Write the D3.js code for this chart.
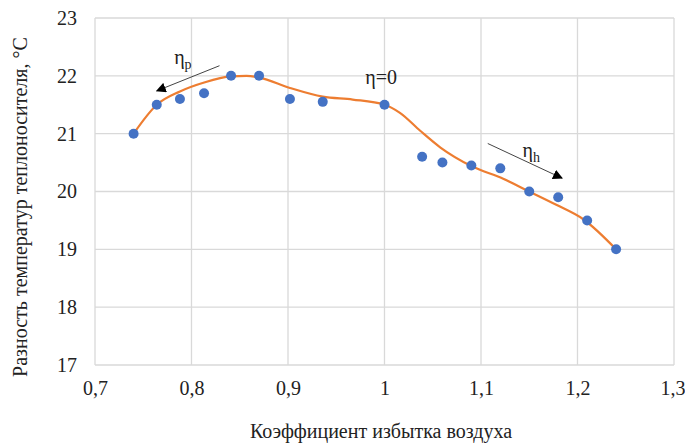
<!DOCTYPE html>
<html>
<head>
<meta charset="utf-8">
<script src="https://cdn.jsdelivr.net/npm/d3@7"></script>
<style>
  body { margin: 0; background: #fff; }
</style>
</head>
<body>
<div id="chart"></div>
<script>
// measured points
const alphaPts = [0.74, 0.764, 0.788, 0.813, 0.841, 0.87, 0.902, 0.936, 1.0, 1.039, 1.06, 1.09, 1.12, 1.15, 1.18, 1.21, 1.24];
const dtPts    = [21.0, 21.5, 21.6, 21.7, 22.0, 22.0, 21.6, 21.55, 21.5, 20.6, 20.5, 20.45, 20.4, 20.0, 19.9, 19.5, 19.0];

// smoothed trend curve
const alphaFit = [0.74, 0.764, 0.788, 0.814, 0.841, 0.857, 0.87, 0.902, 0.936, 0.967, 1.0, 1.016, 1.037, 1.058, 1.09, 1.123, 1.15, 1.178, 1.206, 1.24];
const dtFit    = [21.0, 21.5, 21.73, 21.89, 21.99, 22.0, 21.97, 21.79, 21.64, 21.59, 21.5, 21.36, 21.05, 20.76, 20.44, 20.22, 20.0, 19.77, 19.52, 19.0];

const xTicks = [0.7, 0.8, 0.9, 1.0, 1.1, 1.2, 1.3];
const yTicks = [17, 18, 19, 20, 21, 22, 23];

const width = 685, height = 444;
const margin = {top: 18, right: 11, bottom: 79, left: 95};
const FONT = "'Liberation Serif', 'Times New Roman', serif";

const svg = d3.select("#chart").append("svg")
  .attr("width", width)
  .attr("height", height);

const x = d3.scaleLinear().domain([0.7, 1.3]).range([margin.left, width - margin.right]);
const y = d3.scaleLinear().domain([17, 23]).range([height - margin.bottom, margin.top]);

const fmt = d => String(+d.toFixed(1)).replace(".", ",");

// grid
svg.append("g")
  .selectAll("line.h")
  .data(yTicks)
  .enter().append("line")
  .attr("x1", x(0.7)).attr("x2", x(1.3))
  .attr("y1", d => y(d)).attr("y2", d => y(d))
  .attr("stroke", "#d9d9d9").attr("stroke-width", 1.3);

svg.append("g")
  .selectAll("line.v")
  .data(xTicks)
  .enter().append("line")
  .attr("y1", y(17)).attr("y2", y(23))
  .attr("x1", d => x(d)).attr("x2", d => x(d))
  .attr("stroke", "#d9d9d9").attr("stroke-width", 1.3);

// axes (labels only)
const xAxis = svg.append("g")
  .attr("transform", "translate(0," + y(17) + ")")
  .call(d3.axisBottom(x).tickValues(xTicks).tickFormat(fmt).tickSize(0).tickPadding(16));
xAxis.select(".domain").remove();

const yAxis = svg.append("g")
  .attr("transform", "translate(" + x(0.7) + ",0)")
  .call(d3.axisLeft(y).tickValues(yTicks).tickFormat(d3.format("d")).tickSize(0).tickPadding(18));
yAxis.select(".domain").remove();

// keep the 1,3 label inside the window
xAxis.selectAll(".tick text").filter(d => d === 1.3).attr("text-anchor", "end").attr("dx", "0.55em");

// axis titles
svg.append("text")
  .attr("x", 381).attr("y", 438)
  .attr("text-anchor", "middle")
  .text("Коэффициент избытка воздуха");

svg.append("text")
  .attr("transform", "translate(27,207) rotate(-90)")
  .attr("text-anchor", "middle")
  .text("Разность температур теплоносителя, °С");

// trend curve
const line = d3.line()
  .x((d, i) => x(alphaFit[i]))
  .y(d => y(d))
  .curve(d3.curveMonotoneX);

svg.append("path")
  .datum(dtFit)
  .attr("d", line)
  .attr("fill", "none")
  .attr("stroke", "#ed7d31")
  .attr("stroke-width", 2.2);

// points
svg.append("g")
  .selectAll("circle")
  .data(dtPts)
  .enter().append("circle")
  .attr("cx", (d, i) => x(alphaPts[i]))
  .attr("cy", d => y(d))
  .attr("r", 5)
  .attr("fill", "#4472c4");

// annotations
const defs = svg.append("defs");
defs.append("marker")
  .attr("id", "arr")
  .attr("viewBox", "0 0 10 10")
  .attr("refX", 9).attr("refY", 5)
  .attr("markerWidth", 10).attr("markerHeight", 10)
  .attr("markerUnits", "userSpaceOnUse")
  .attr("orient", "auto")
  .append("path")
  .attr("d", "M0,0 L10,5 L0,10 z")
  .attr("fill", "#000");

const arrowP = [[0.829, 22.175], [0.764, 21.74]];
const arrowH = [[1.107, 20.83], [1.184, 20.23]];

[arrowP, arrowH].forEach(a => {
  svg.append("line")
    .attr("x1", x(a[0][0])).attr("y1", y(a[0][1]))
    .attr("x2", x(a[1][0])).attr("y2", y(a[1][1]))
    .attr("stroke", "#444").attr("stroke-width", 1)
    .attr("marker-end", "url(#arr)");
});

function eta(xv, yv, sub) {
  const t = svg.append("text")
    .attr("x", x(xv)).attr("y", y(yv));
  t.append("tspan").text("η");
  if (sub) {
    t.append("tspan").attr("class", "sub").attr("dy", 5).text(sub);
  }
  return t;
}
eta(0.782, 22.2, "p");
eta(1.143, 20.6, "h");

svg.append("text")
  .attr("x", x(0.98)).attr("y", y(21.86))
  .text("η=0");

// fonts as inline styles on every text
svg.selectAll("text")
  .style("font-family", FONT)
  .style("font-size", "20px")
  .style("fill", "#222");
svg.selectAll("tspan.sub")
  .style("font-size", "14px");
</script>
</body>
</html>
